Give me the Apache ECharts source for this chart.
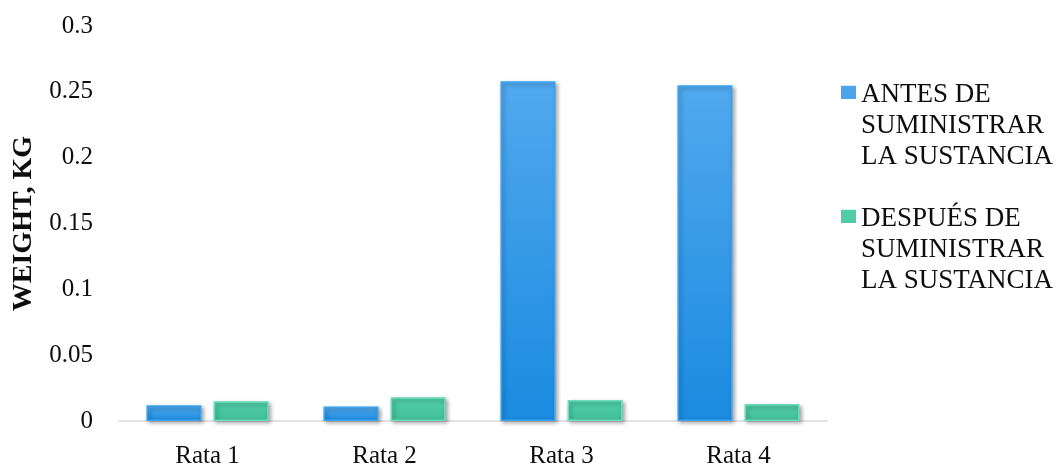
<!DOCTYPE html>
<html>
<head>
<meta charset="utf-8">
<script src="https://cdn.jsdelivr.net/npm/echarts@6/dist/echarts.min.js"></script>
<style>
  html, body { margin: 0; padding: 0; background: #fff; }
  #chart { width: 1062px; height: 468px; }
</style>
</head>
<body>
<div id="chart"></div>
<script>
// Rat weights (kg) before and after the substance was given
const categories = ['Rata 1', 'Rata 2', 'Rata 3', 'Rata 4'];
const seriesNames = ['ANTES DE SUMINISTRAR LA SUSTANCIA', 'DESPUÉS DE SUMINISTRAR LA SUSTANCIA'];
const antes = [0.012, 0.011, 0.258, 0.255];
const despues = [0.015, 0.018, 0.016, 0.013];
const yTicks = [0, 0.05, 0.1, 0.15, 0.2, 0.25, 0.3];

const FONT = 'Liberation Serif';

// Legend marker: a small square sitting at the top of a tall, empty box,
// so the marker lines up with the first line of a three-line label.
const TOP_SQUARE = 'path://M0,0 M0,5 L10,5 L10,15 L0,15 Z M0,70';

function barStyle(top, bottom, edge) {
  return {
    color: new echarts.graphic.LinearGradient(0, 0, 0, 1, [
      { offset: 0, color: top },
      { offset: 1, color: bottom }
    ]),
    borderColor: edge,
    borderWidth: 1.5,
    shadowColor: 'rgba(0,0,0,0.35)',
    shadowBlur: 4,
    shadowOffsetX: 2,
    shadowOffsetY: 2
  };
}

const legendText = {
  fontFamily: FONT,
  fontSize: 27,
  color: '#0d0d0d',
  lineHeight: 31
};

const chart = echarts.init(document.getElementById('chart'));
chart.setOption({
  animation: false,
  textStyle: { fontFamily: FONT },
  grid: { left: 119, right: 235, top: 26, bottom: 47, outerBoundsMode: 'none', containLabel: false },
  legend: {
    orient: 'vertical',
    left: 836,
    top: 74,
    itemWidth: 15,
    itemHeight: 93,
    itemGap: 31,
    symbolKeepAspect: false,
    itemStyle: { shadowBlur: 0, shadowOffsetX: 0, shadowOffsetY: 0, borderWidth: 0 },
    formatter: name => '{t|' + name.replace(' DE SUMINISTRAR ', ' DE}\n{t|SUMINISTRAR}\n{t|') + '}',
    textStyle: Object.assign({}, legendText, { rich: { t: legendText } }),
    data: seriesNames.map(n => ({ name: n, icon: TOP_SQUARE }))
  },
  xAxis: {
    type: 'category',
    data: categories,
    axisLine: { lineStyle: { color: '#d9d9d9', width: 1.5 } },
    axisTick: { show: false },
    axisLabel: { fontFamily: FONT, fontSize: 25, color: '#0d0d0d', margin: 23 }
  },
  yAxis: {
    type: 'value',
    min: yTicks[0],
    max: yTicks[yTicks.length - 1],
    interval: 0.05,
    name: 'WEIGHT, KG',
    nameLocation: 'middle',
    nameGap: 81,
    nameRotate: 90,
    nameTextStyle: { fontFamily: FONT, fontSize: 28, fontWeight: 'bold', color: '#0d0d0d' },
    axisLine: { show: false },
    axisTick: { show: false },
    splitLine: { show: false },
    axisLabel: { fontFamily: FONT, fontSize: 25, color: '#0d0d0d', margin: 26 }
  },
  series: [
    {
      name: seriesNames[0],
      type: 'bar',
      data: antes,
      barGap: '22%',
      barCategoryGap: '31%',
      itemStyle: barStyle('#52a9ee', '#1a8be0', '#3aa3f0')
    },
    {
      name: seriesNames[1],
      type: 'bar',
      data: despues,
      itemStyle: barStyle('#52cfa9', '#3fbf98', '#6adcb8')
    }
  ]
});
</script>
</body>
</html>
